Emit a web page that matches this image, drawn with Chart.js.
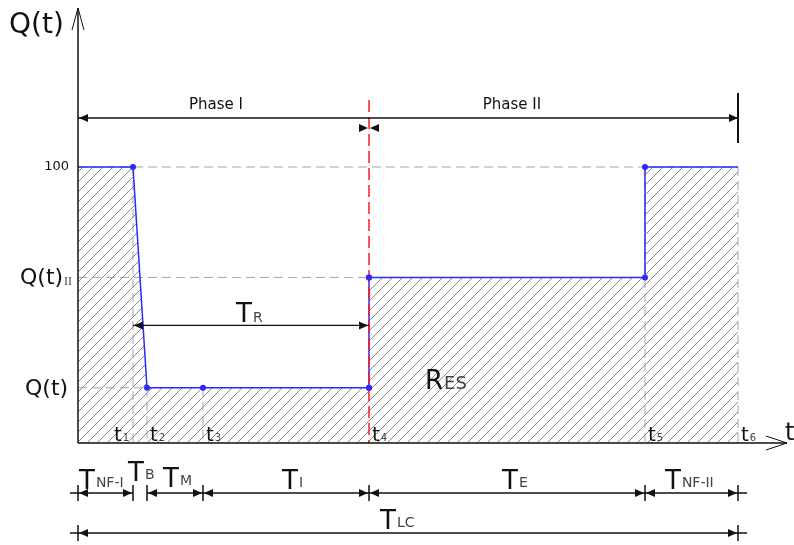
<!DOCTYPE html>
<html>
<head>
<meta charset="utf-8">
<script src="https://cdn.jsdelivr.net/npm/chart.js@4.4.1/dist/chart.umd.min.js"></script>
<style>
  html, body { margin: 0; padding: 0; background: #fff; }
  #wrap { width: 794px; height: 545px; }
</style>
</head>
<body>
<div id="wrap"><canvas id="myChart" width="794" height="545"></canvas></div>
<script>
// time instants t1..t6 (x units)
const tPoints = [55, 69, 125, 291, 567, 660]
const tNames = ['1', '2', '3', '4', '5', '6']
// performance levels
const qFull = 100
const qII = 60
const qLow = 20
// performance curve
const curveX = [0, 55, 69, 125, 291, 291, 567, 567, 660]
const curveY = [100, 100, 20, 20, 20, 60, 60, 100, 100]
const dotShown = [0, 1, 1, 1, 1, 1, 1, 1, 0]
// duration spans along the bottom
const spanEdges = [0, 55, 69, 125, 291, 567, 660]
const spanNames = ['NF-I', 'B', 'M', 'I', 'E', 'NF-II']

const FONT = '"DejaVu Sans", Verdana, sans-serif'
const BLUE = '#2a2aff'

// diagonal hatch pattern
function makeHatch() {
  const c = document.createElement('canvas')
  c.width = 10; c.height = 10
  const g = c.getContext('2d')
  g.strokeStyle = '#8a8a8a'
  g.lineWidth = 1
  g.beginPath()
  g.moveTo(0, 10); g.lineTo(10, 0)
  g.moveTo(-5, 5); g.lineTo(5, -5)
  g.moveTo(5, 15); g.lineTo(15, 5)
  g.stroke()
  return g.createPattern(c, 'repeat')
}

const points = curveX.map((x, i) => ({ x: x, y: curveY[i] }))

function arrowHead(ctx, x, y, dir) {
  ctx.beginPath()
  ctx.moveTo(x, y)
  ctx.lineTo(x - dir * 9, y - 4)
  ctx.lineTo(x - dir * 9, y + 4)
  ctx.closePath()
  ctx.fill()
}

function subText(ctx, main, sub, x, y, size, subSize, subDy, subFont) {
  ctx.font = size + 'px ' + FONT
  ctx.fillStyle = '#111'
  ctx.textAlign = 'left'
  ctx.textBaseline = 'alphabetic'
  ctx.fillText(main, x, y)
  const w = ctx.measureText(main).width
  ctx.font = subSize + 'px ' + (subFont || FONT)
  ctx.fillStyle = '#444'
  ctx.fillText(sub, x + w + 1, y + subDy)
}

const guides = {
  id: 'guides',
  beforeDatasetsDraw(chart) {
    const ctx = chart.ctx
    const sx = chart.scales.x, sy = chart.scales.y
    const X = v => sx.getPixelForValue(v)
    const Y = v => sy.getPixelForValue(v)
    ctx.save()
    ctx.strokeStyle = '#a5a5a5'
    ctx.lineWidth = 1
    ctx.setLineDash([9, 5])
    const h = (v, a, b) => { ctx.beginPath(); ctx.moveTo(X(a), Y(v)); ctx.lineTo(X(b), Y(v)); ctx.stroke() }
    const vt = (t, a, b) => { ctx.beginPath(); ctx.moveTo(X(t), Y(a)); ctx.lineTo(X(t), Y(b)); ctx.stroke() }
    h(qFull, 0, tPoints[5])
    h(qII, 0, tPoints[3])
    h(qLow, 0, tPoints[1])
    vt(tPoints[0], qFull, 0)
    vt(tPoints[1], qLow, 0)
    vt(tPoints[2], qLow, 0)
    vt(tPoints[4], qFull, 0)
    vt(tPoints[5], qFull, 0)
    ctx.restore()
  },
  afterDatasetsDraw(chart) {
    const ctx = chart.ctx
    const ca = chart.chartArea
    const sx = chart.scales.x, sy = chart.scales.y
    const X = v => sx.getPixelForValue(v)
    const Y = v => sy.getPixelForValue(v)
    const x0 = X(0), y0 = Y(0)
    ctx.save()

    // red recovery line at t4
    ctx.strokeStyle = '#ff1a1a'
    ctx.lineWidth = 1.5
    ctx.setLineDash([12, 5])
    ctx.beginPath()
    ctx.moveTo(X(tPoints[3]), Y(qFull) - 67)
    ctx.lineTo(X(tPoints[3]), y0)
    ctx.stroke()
    ctx.setLineDash([])

    // redraw blue dots on top of red line
    ctx.fillStyle = BLUE
    ;[qLow, qII].forEach(v => { ctx.beginPath(); ctx.arc(X(tPoints[3]), Y(v), 3, 0, Math.PI * 2); ctx.fill() })

    // axes
    ctx.strokeStyle = '#111'
    ctx.fillStyle = '#111'
    ctx.lineWidth = 1.5
    ctx.beginPath()
    ctx.moveTo(x0, y0); ctx.lineTo(x0, ca.top)
    ctx.moveTo(x0, y0); ctx.lineTo(ca.right - 1, y0)
    ctx.stroke()
    ctx.lineWidth = 1
    ctx.beginPath()
    ctx.moveTo(x0 - 6, ca.top + 22); ctx.lineTo(x0, ca.top); ctx.lineTo(x0 + 6, ca.top + 22)
    ctx.moveTo(ca.right - 22, y0 - 7); ctx.lineTo(ca.right - 1, y0); ctx.lineTo(ca.right - 22, y0 + 7)
    ctx.stroke()

    // phase row
    const yp = Y(qFull) - 49
    const x4 = X(tPoints[3]), x6 = X(tPoints[5])
    ctx.lineWidth = 1.5
    ctx.beginPath(); ctx.moveTo(x0, yp); ctx.lineTo(x6, yp); ctx.stroke()
    arrowHead(ctx, x0 + 1, yp, -1)
    arrowHead(ctx, x4 - 1, yp + 10, 1)
    arrowHead(ctx, x4 + 1, yp + 10, -1)
    arrowHead(ctx, x6, yp, 1)
    ctx.lineWidth = 2
    ctx.beginPath(); ctx.moveTo(x6, yp - 25); ctx.lineTo(x6, yp + 25); ctx.stroke()
    ctx.font = '15px ' + FONT
    ctx.textAlign = 'center'
    ctx.textBaseline = 'alphabetic'
    ctx.fillText('Phase I', 216, yp - 9)
    ctx.fillText('Phase II', 512, yp - 9)

    // T_R arrow
    const yr = Y(qII) + 48
    ctx.lineWidth = 1.2
    ctx.beginPath(); ctx.moveTo(X(tPoints[0]), yr); ctx.lineTo(x4, yr); ctx.stroke()
    arrowHead(ctx, X(tPoints[0]) + 1, yr, -1)
    arrowHead(ctx, x4 - 1, yr, 1)
    subText(ctx, 'T', 'R', 236, yr - 3, 26, 14, 0)
    subText(ctx, 'R', 'ES', 425, Y(qLow) + 1, 26, 18, 0)

    // axis text
    ctx.fillStyle = '#111'
    ctx.font = '28px ' + FONT
    ctx.textAlign = 'left'
    ctx.fillText('Q(t)', 9, 33)
    ctx.font = '24px ' + FONT
    ctx.fillText('t', 785, y0 - 3)
    ctx.font = '13px ' + FONT
    ctx.textAlign = 'right'
    ctx.textBaseline = 'middle'
    ctx.fillText('100', x0 - 9, Y(qFull))
    ctx.textBaseline = 'alphabetic'
    subText(ctx, 'Q(t)', 'II', 20, Y(qII) + 7, 22, 12, 1, '"Liberation Serif", serif')
    ctx.font = '22px ' + FONT
    ctx.fillStyle = '#111'
    ctx.textAlign = 'left'
    ctx.fillText('Q(t)', 25, Y(qLow) + 7)
    tPoints.forEach((t, i) => {
      const tx = i === 0 ? X(t) - 19 : X(t) + 3
      subText(ctx, 't', tNames[i], tx, y0 - 2, 20, 10, 0)
    })

    // duration rows
    const yb = y0 + 50, yl = y0 + 90
    ctx.strokeStyle = '#111'
    ctx.fillStyle = '#111'
    ctx.lineWidth = 1.5
    for (let i = 0; i < spanNames.length; i++) {
      if (spanNames[i] === 'B') continue
      const a = X(spanEdges[i]), b = X(spanEdges[i + 1])
      ctx.beginPath(); ctx.moveTo(a, yb); ctx.lineTo(b, yb); ctx.stroke()
      arrowHead(ctx, a + 1, yb, -1)
      arrowHead(ctx, b - 1, yb, 1)
    }
    ctx.beginPath(); ctx.moveTo(x0 - 8, yb); ctx.lineTo(x0, yb); ctx.moveTo(x6, yb); ctx.lineTo(x6 + 9, yb); ctx.stroke()
    spanEdges.forEach(e => {
      ctx.beginPath(); ctx.moveTo(X(e), yb - 8); ctx.lineTo(X(e), yb + 8); ctx.stroke()
    })
    ctx.beginPath(); ctx.moveTo(x0 - 8, yl); ctx.lineTo(x6 + 9, yl); ctx.stroke()
    arrowHead(ctx, x0 + 1, yl, -1)
    arrowHead(ctx, x6 - 1, yl, 1)
    ;[x0, x6].forEach(x => { ctx.beginPath(); ctx.moveTo(x, yl - 8); ctx.lineTo(x, yl + 8); ctx.stroke() })

    const labelX = [79, 128, 163, 282, 502, 665]
    const labelDy = [-4, -12, -6, -4, -4, -4]
    spanNames.forEach((n, i) => subText(ctx, 'T', n, labelX[i], yb + labelDy[i], 26, 14, -2))
    subText(ctx, 'T', 'LC', 380, yl - 4, 26, 14, -2)
    ctx.restore()
  }
}

const config = {
  type: 'line',
  data: {
    datasets: [{
      label: 'Q(t)',
      data: points,
      borderColor: BLUE,
      borderWidth: 1.5,
      backgroundColor: makeHatch(),
      fill: 'origin',
      tension: 0,
      pointRadius: dotShown.map(d => d ? 3 : 0),
      pointBackgroundColor: BLUE,
      pointBorderWidth: 0
    }]
  },
  options: {
    responsive: false,
    animation: false,
    events: [],
    layout: { padding: { left: 78, top: 8, right: 6, bottom: 102 } },
    plugins: { legend: { display: false }, tooltip: { enabled: false } },
    scales: {
      x: { type: 'linear', min: 0, max: 710, display: false },
      y: { type: 'linear', min: 0, max: 157.6, display: false }
    }
  },
  plugins: [guides]
}

const myChart = new Chart(document.getElementById('myChart'), config)
</script>
</body>
</html>
